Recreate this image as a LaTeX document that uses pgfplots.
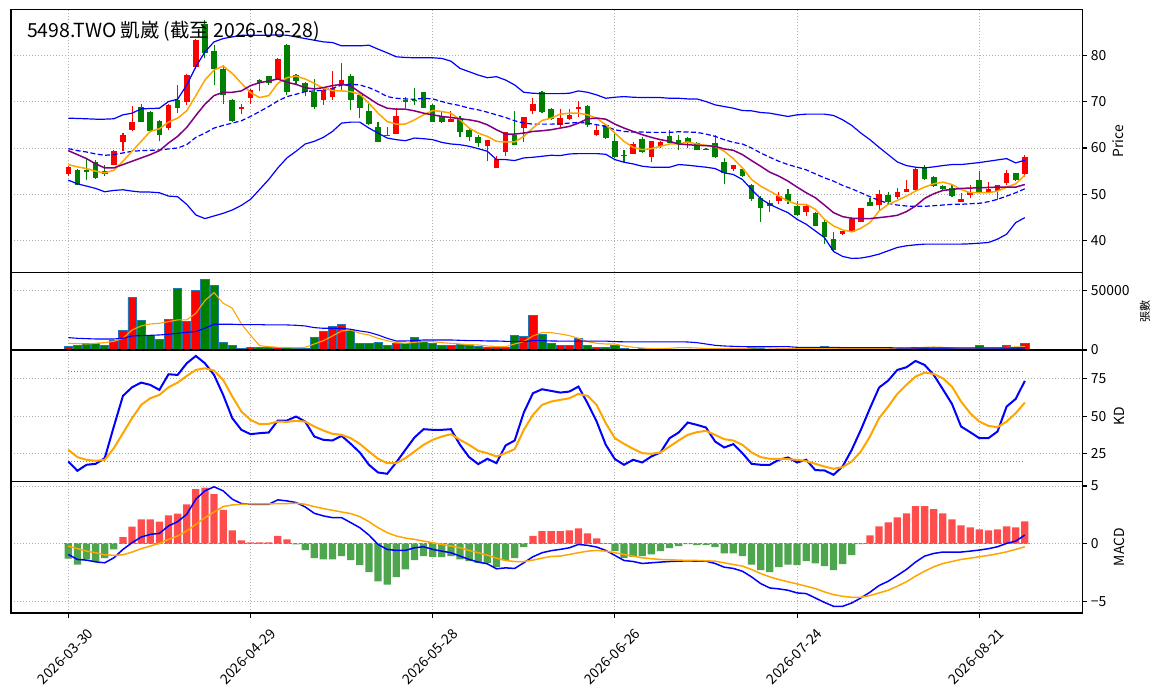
\documentclass[border=0pt]{standalone}
\usepackage{fontspec}
\setmainfont{Noto Sans CJK TC}
\usepackage{pgfplots}
\usepackage{pgfplotstable}
\pgfplotsset{compat=1.18}

\definecolor{cred}{RGB}{255,0,0}
\definecolor{cgreen}{RGB}{0,128,0}
\definecolor{corange}{RGB}{255,165,0}
\definecolor{cpurple}{RGB}{128,0,128}
\definecolor{cblue}{RGB}{0,0,255}
\definecolor{cedge}{RGB}{31,119,180}
\definecolor{hred}{RGB}{255,77,77}
\definecolor{hgreen}{RGB}{77,166,77}
\definecolor{cgrid}{RGB}{176,176,176}

\pgfplotstableread{
i O H L C V
0 54.4 56.1 53.9 55.9 2800
5 56.4 59.5 56.3 59.3 7900
6 61.2 63.2 59.3 62.9 16300
7 63.9 69.1 63.6 65.6 44400
11 64.3 69.5 63.8 69.3 25900
13 70.0 75.9 69.3 75.7 23900
14 77.5 83.5 77.0 83.2 50000
19 68.5 69.5 67.3 68.9 1100
20 70.7 72.6 69.4 72.5 2200
23 74.9 79.3 74.7 79.1 2000
28 70.4 73.2 69.3 72.4 15700
29 70.9 76.6 70.4 72.9 19700
30 73.6 78.2 72.5 74.6 21600
36 63.1 68.6 63.0 66.9 5600
42 65.6 68.0 65.5 66.3 3700
46 60.4 61.8 57.1 61.8 2500
47 55.7 58.2 55.7 57.7 2000
48 59.1 63.5 58.2 63.4 2500
50 64.4 66.6 61.3 66.6 11200
51 67.9 70.7 67.3 69.5 29200
54 65.0 68.4 64.6 66.4 3900
55 66.3 68.4 66.1 67.1 3900
56 68.4 70.2 66.6 68.9 9800
58 62.9 64.9 62.5 63.9 2000
62 58.8 61.3 58.6 60.9 800
64 58.1 61.5 57.0 61.4 600
65 60.4 61.4 60.0 61.3 500
73 55.5 56.3 55.0 56.3 600
78 48.6 50.6 48.0 49.6 600
81 46.2 47.9 45.4 47.4 600
85 41.4 42.2 41.3 42.1 1100
86 42.0 45.2 41.9 44.8 1100
87 44.1 47.1 44.0 47.0 1100
89 47.7 50.9 46.4 50.1 1100
91 49.5 51.3 49.1 50.6 1100
92 50.6 53.2 50.5 51.1 1100
93 50.9 55.6 50.8 55.4 2500
98 48.4 50.4 48.3 49.1 1100
99 49.9 52.1 49.3 50.6 1100
101 50.5 52.6 50.3 51.1 1100
102 50.7 52.1 48.9 52.1 1100
103 52.5 55.2 52.0 54.6 3700
105 54.3 58.4 53.7 58.1 5600
}\up

\pgfplotstableread{
i O H L C V
1 55.2 55.5 52.0 52.1 4200
2 55.3 57.6 53.0 54.8 5600
3 57.0 57.5 53.4 53.5 5600
4 55.0 56.3 54.0 54.5 3900
8 68.9 69.4 65.6 65.7 24700
9 67.8 68.0 63.4 63.6 12100
10 65.9 66.0 61.4 62.9 9000
12 70.4 73.6 67.5 68.7 52000
15 86.8 87.5 79.3 80.4 59600
16 80.9 82.1 73.6 77.1 54500
17 77.0 77.9 69.4 71.4 6500
18 70.4 70.5 65.7 65.9 3900
21 74.6 74.8 72.3 73.9 2200
22 75.5 75.6 73.6 73.9 2000
24 82.1 82.3 71.5 72.0 2200
25 75.7 76.0 73.5 74.4 1400
26 73.9 74.2 71.1 72.0 1400
27 72.0 74.9 68.4 68.9 10700
31 75.5 75.9 68.2 70.4 16300
32 71.4 71.5 66.4 68.7 5600
33 68.0 69.4 65.0 65.2 5600
34 64.6 65.7 61.2 61.3 6500
35 62.8 64.6 62.5 62.7 3700
37 70.4 70.9 68.7 70.0 5600
38 70.4 72.9 69.3 70.1 10700
39 72.0 72.1 68.6 68.7 7000
40 69.3 69.5 65.6 65.7 5600
41 66.8 67.9 65.4 65.7 3700
43 66.4 66.8 62.3 63.4 4800
44 63.9 64.1 61.6 62.3 3700
45 62.4 62.9 60.2 61.1 2800
49 62.9 68.0 60.6 60.6 12100
52 72.0 72.3 67.5 67.7 13200
53 68.4 68.6 66.1 66.3 5600
57 69.1 69.2 64.6 64.9 3900
59 65.0 65.1 62.0 62.1 2200
60 61.6 63.2 57.9 58.0 3700
61 58.5 59.6 57.0 58.3 1100
63 62.0 62.3 59.0 59.1 1100
66 62.6 63.9 61.0 61.1 500
67 61.8 62.9 59.6 60.9 500
68 62.1 62.3 59.9 61.3 500
69 61.1 61.3 59.5 59.6 500
70 59.8 59.9 59.6 59.7 600
71 61.1 62.7 57.9 58.0 1100
72 57.0 57.9 52.3 54.6 1100
74 55.4 55.7 53.8 53.9 600
75 52.1 52.2 48.6 49.1 2000
76 49.3 49.6 44.1 47.1 1700
77 48.1 48.9 46.3 47.5 600
79 50.0 51.1 48.0 48.6 600
80 47.5 48.6 45.4 45.6 600
82 46.1 46.2 43.1 43.2 800
83 44.1 44.4 39.3 40.9 2800
84 40.5 41.8 37.9 38.0 1100
88 48.4 49.3 47.4 47.5 1100
90 49.9 50.6 48.2 48.4 1100
94 55.9 56.3 53.0 53.4 2500
95 53.8 53.9 51.7 51.8 1100
96 51.9 52.1 50.9 51.2 1100
97 51.4 52.1 49.5 49.6 1100
100 53.0 55.0 50.5 50.6 3700
104 54.6 54.7 52.9 53.2 2500
}\down

\pgfplotstableread{
i u m l a b
0 66.43 59.86 53.07 56.43 59.43
1 66.36 59.43 52.29 55.93 58.57
2 66.29 59.14 51.79 55.57 57.71
3 66.21 58.71 51.29 55.00 56.57
4 66.21 58.43 50.57 54.64 55.71
5 66.29 58.57 50.86 55.21 55.71
6 67.14 58.93 51.00 57.14 56.43
7 67.50 59.29 50.71 59.29 57.14
8 68.43 59.43 50.50 61.43 57.86
9 68.50 59.50 50.50 63.57 58.57
10 68.57 59.57 50.36 64.14 59.43
11 70.00 59.79 49.64 65.57 61.07
12 70.50 60.00 49.50 66.43 62.50
13 73.57 60.71 47.86 68.00 64.43
14 77.50 62.29 45.57 71.29 67.00
15 80.71 63.21 44.79 74.64 69.43
16 82.86 64.29 45.36 76.79 71.29
17 83.57 64.86 45.93 77.64 72.00
18 83.93 65.36 46.64 76.07 72.00
19 84.29 65.86 47.64 73.93 72.29
20 84.29 66.79 48.93 71.93 73.43
21 84.29 67.86 51.07 70.86 74.07
22 84.29 68.93 53.21 71.29 74.43
23 84.36 70.14 55.71 73.93 74.86
24 84.29 71.07 57.86 75.14 74.14
25 83.93 71.57 59.29 75.50 73.71
26 83.57 72.14 60.86 74.86 73.00
27 83.21 72.29 61.43 73.93 72.71
28 82.86 72.43 62.29 72.86 73.00
29 82.71 72.86 63.57 72.36 73.43
30 82.00 73.57 65.36 72.29 73.71
31 82.00 73.71 65.57 72.14 73.36
32 82.00 73.57 65.57 71.57 72.00
33 82.14 73.00 64.29 69.64 70.71
34 81.29 72.14 63.21 67.50 69.43
35 80.50 71.07 62.14 65.71 68.57
36 79.64 70.71 61.79 65.14 68.36
37 79.50 70.57 61.57 65.14 68.36
38 79.43 70.50 62.14 66.07 68.00
39 79.43 70.71 62.00 67.14 67.50
40 79.43 70.57 61.79 68.07 67.14
41 79.29 70.00 61.21 67.86 66.79
42 78.71 69.50 60.86 67.50 66.57
43 77.14 69.14 60.71 66.07 66.29
44 76.43 68.57 60.36 64.29 66.07
45 75.71 68.21 59.86 63.21 65.71
46 75.14 67.71 59.29 62.50 65.00
47 75.36 67.14 57.50 61.43 63.93
48 74.64 66.57 57.50 61.29 63.00
49 73.57 65.86 57.29 61.29 63.00
50 72.00 65.36 57.86 62.50 63.21
51 71.79 65.14 58.00 64.29 63.57
52 71.71 65.14 58.21 65.93 63.71
53 71.71 65.14 58.43 66.43 63.93
54 71.71 65.21 58.36 67.29 64.29
55 71.79 65.36 58.71 67.50 64.64
56 72.29 65.50 58.79 67.50 65.36
57 72.00 65.36 58.79 67.14 66.29
58 71.43 65.00 58.79 66.43 66.43
59 70.71 64.64 58.64 65.00 66.21
60 70.93 63.93 57.50 63.21 65.14
61 71.07 63.57 56.93 61.43 64.29
62 70.93 63.43 56.57 60.14 63.57
63 70.86 63.43 56.07 59.64 62.86
64 70.86 63.36 55.86 59.86 62.29
65 70.86 63.36 55.86 60.36 61.79
66 70.71 63.36 55.86 60.86 61.43
67 70.71 63.50 56.43 60.86 60.86
68 70.57 63.43 56.29 61.29 60.71
69 70.57 63.36 56.07 60.86 60.57
70 70.00 63.00 55.86 60.57 60.50
71 69.29 62.50 55.57 60.36 60.36
72 68.93 61.79 54.64 59.29 59.79
73 68.57 61.21 54.29 57.71 59.50
74 68.07 60.86 53.21 55.71 58.57
75 68.00 60.00 51.07 53.21 57.29
76 67.64 58.93 49.07 51.79 56.07
77 67.50 58.00 47.86 50.71 54.79
78 67.14 57.14 46.93 49.64 53.93
79 66.79 56.43 46.07 48.57 52.86
80 67.14 55.86 44.64 47.86 51.57
81 67.29 55.29 43.57 47.86 50.36
82 67.29 54.43 42.14 46.79 49.29
83 67.29 53.57 40.71 44.64 47.71
84 67.00 52.86 37.71 43.21 46.07
85 66.07 51.93 36.64 42.36 45.21
86 64.86 51.21 36.21 41.93 44.86
87 63.21 50.36 36.29 42.71 44.79
88 61.79 49.50 36.64 43.93 44.79
89 60.14 48.71 37.14 46.43 45.00
90 58.57 48.07 37.86 47.86 45.21
91 57.00 47.71 38.57 48.71 45.50
92 56.21 47.50 38.93 49.64 46.29
93 55.86 47.43 39.14 50.71 47.50
94 55.71 47.43 39.29 51.57 49.14
95 55.93 47.57 39.29 52.29 50.14
96 56.21 47.71 39.29 52.64 50.86
97 56.43 47.86 39.29 52.14 51.07
98 56.43 47.86 39.29 51.07 51.29
99 56.64 48.00 39.36 50.36 51.36
100 56.86 48.07 39.50 50.36 51.43
101 57.14 48.43 39.64 50.36 51.50
102 57.43 48.93 40.36 50.71 51.57
103 57.71 49.64 41.43 51.57 51.57
104 56.79 50.36 43.93 52.29 51.57
105 57.36 51.21 45.00 54.14 52.14
}\pl

\pgfplotstableread{
i vm5 vm20 k d dif dea h
0 5620 10400 19.78 27.56 -0.93 -0.20 -1.30
1 5340 9840 13.56 22.67 -1.36 -0.43 -1.80
2 5060 9550 17.56 20.89 -1.42 -0.64 -1.36
3 5620 9270 18.22 20.22 -1.57 -0.78 -1.50
4 6180 9270 22.00 20.89 -1.65 -0.96 -1.25
5 7300 9270 43.11 28.67 -1.22 -1.01 -0.49
6 9840 9840 63.56 38.67 -0.49 -0.96 0.58
7 16860 11800 69.33 48.67 0.09 -0.72 1.48
8 20230 12080 72.44 57.56 0.58 -0.43 2.12
9 21920 12360 70.89 62.00 0.81 -0.20 2.12
10 22480 12650 67.56 64.22 0.90 0.03 1.91
11 23890 13210 78.00 69.33 1.54 0.38 2.46
12 25290 14050 77.56 72.44 1.91 0.67 2.61
13 25290 14890 85.33 76.89 2.55 1.10 3.42
14 30910 15460 90.22 80.89 3.86 1.68 4.72
15 41590 18270 85.33 82.00 4.58 2.26 4.87
16 48330 21640 77.56 80.44 4.93 2.75 4.29
17 39340 21640 64.22 74.22 4.58 3.22 2.93
18 35130 21640 48.67 63.11 3.86 3.36 1.16
19 22000 21360 40.89 53.11 3.48 3.42 0.29
20 12500 21360 38.00 47.56 3.42 3.45 0.12
21 3650 21360 38.67 44.67 3.42 3.45 0.12
22 2810 21080 39.11 44.89 3.42 3.45 0.12
23 2250 21080 47.11 46.44 3.80 3.48 0.67
24 2250 21080 47.11 46.22 3.71 3.48 0.38
25 1970 20790 49.78 46.89 3.57 3.51 -0.05
26 2250 20230 46.44 46.44 3.19 3.42 -0.55
27 5060 18830 36.44 43.11 2.64 3.22 -1.25
28 7870 18270 34.22 40.44 2.41 3.04 -1.36
29 11800 18270 33.78 38.22 2.26 2.90 -1.36
30 16020 18270 36.89 37.56 2.26 2.75 -1.07
31 16860 17420 31.56 35.33 1.83 2.61 -1.42
32 14050 16020 25.78 31.56 1.39 2.35 -1.86
33 12650 14890 17.56 26.44 0.75 1.91 -2.46
34 9840 12650 12.44 21.56 -0.06 1.39 -3.25
35 7870 9840 11.56 18.67 -0.49 0.96 -3.54
36 6180 7590 19.11 18.67 -0.58 0.67 -2.90
37 5620 7590 27.56 22.00 -0.58 0.49 -2.23
38 6460 7870 35.78 26.44 -0.35 0.38 -1.42
39 7030 8430 41.33 30.89 -0.26 0.23 -1.07
40 7030 8430 40.89 34.22 -0.49 0.09 -1.13
41 6180 8430 40.89 36.44 -0.64 -0.06 -1.16
42 5620 8430 41.33 38.00 -0.78 -0.20 -1.07
43 5060 8150 30.89 34.22 -1.07 -0.35 -1.36
44 4500 7870 22.67 30.89 -1.36 -0.58 -1.51
45 4220 7870 18.00 26.89 -1.59 -0.78 -1.65
46 3370 7590 21.56 25.33 -1.74 -0.99 -1.65
47 2810 7590 18.67 23.11 -2.17 -1.25 -2.03
48 2810 7310 30.44 25.33 -2.09 -1.45 -1.42
49 5060 7310 33.78 28.00 -2.14 -1.54 -1.25
50 7030 7030 52.44 40.89 -1.65 -1.54 -0.29
51 11800 7870 65.33 50.89 -1.13 -1.42 0.67
52 14610 7870 68.00 57.56 -0.78 -1.25 1.10
53 14610 7590 66.89 59.78 -0.60 -1.10 1.10
54 13490 7500 65.78 60.89 -0.49 -1.07 1.10
55 12080 7500 66.44 62.00 -0.35 -0.93 1.16
56 9840 7500 69.78 64.89 -0.06 -0.78 1.33
57 7030 7500 58.67 63.56 -0.14 -0.64 0.90
58 5620 7500 46.44 57.56 -0.29 -0.58 0.46
59 5060 7500 30.89 45.33 -0.58 -0.64 0.03
60 5060 7030 21.33 35.33 -1.01 -0.78 -0.64
61 3370 6880 17.56 31.56 -1.45 -0.93 -1.22
62 2250 6880 20.89 28.22 -1.54 -1.07 -1.13
63 1690 6880 19.11 25.33 -1.71 -1.22 -1.07
64 1120 6880 23.11 24.89 -1.65 -1.30 -0.93
65 1120 6880 25.78 25.78 -1.59 -1.36 -0.64
66 1400 6880 35.33 29.78 -1.54 -1.39 -0.38
67 1970 6880 39.11 33.78 -1.51 -1.42 -0.20
68 1970 6740 45.78 37.56 -1.48 -1.45 -0.03
69 1690 6180 44.22 39.33 -1.51 -1.45 -0.12
70 1120 5060 42.44 40.22 -1.51 -1.48 -0.12
71 1120 3930 33.11 37.56 -1.71 -1.51 -0.29
72 1120 3370 29.11 34.67 -2.03 -1.65 -0.84
73 1400 3090 31.33 33.78 -2.14 -1.80 -0.84
74 1120 2810 25.33 30.89 -2.38 -1.94 -1.07
75 1690 2810 18.22 25.78 -2.87 -2.23 -1.80
76 1970 2810 17.56 22.67 -3.45 -2.58 -2.29
77 1690 2810 17.56 21.56 -3.83 -2.87 -2.46
78 1400 2810 20.89 21.56 -3.91 -3.10 -2.03
79 1120 2810 22.44 21.33 -4.03 -3.30 -1.80
80 1120 2250 19.11 20.89 -4.26 -3.48 -1.86
81 1120 2250 20.89 20.00 -4.32 -3.68 -1.51
82 1120 2250 14.00 18.22 -4.70 -3.88 -1.71
83 1400 2250 13.78 16.44 -5.08 -4.17 -1.94
84 1400 2250 10.89 14.89 -5.42 -4.41 -2.29
85 1400 2000 16.44 16.00 -5.42 -4.55 -1.77
86 1400 2000 27.56 19.78 -5.13 -4.64 -0.99
87 1120 2000 40.89 26.44 -4.70 -4.64 -0.03
88 1120 1970 55.33 36.44 -4.20 -4.49 0.72
89 1120 1970 69.11 48.67 -3.62 -4.26 1.51
90 1120 1970 73.78 56.44 -3.25 -4.03 1.86
91 1120 1700 80.89 64.89 -2.75 -3.68 2.29
92 1120 1700 82.67 70.89 -2.23 -3.30 2.64
93 1690 1700 86.89 76.44 -1.59 -2.81 3.25
94 2250 1700 84.22 79.11 -1.07 -2.38 3.25
95 2530 1700 77.56 78.22 -0.84 -2.00 2.99
96 2250 1700 68.00 75.33 -0.72 -1.71 2.64
97 1690 1700 58.22 69.78 -0.72 -1.54 2.12
98 1120 1700 43.11 59.78 -0.72 -1.36 1.59
99 1120 1700 39.33 52.00 -0.64 -1.25 1.42
100 1690 1700 35.33 46.44 -0.55 -1.13 1.25
101 1690 1700 35.33 43.56 -0.43 -1.01 1.16
102 1690 1700 39.78 42.67 -0.26 -0.87 1.25
103 2250 1700 56.44 46.44 0.03 -0.70 1.51
104 2530 1700 61.56 52.00 0.23 -0.49 1.42
105 2810 1700 73.56 59.11 0.75 -0.26 1.94
}\ind

\pgfplotsset{
  panel/.style={
    scale only axis, width=1071.5pt,
    xmin=-6.29, xmax=111.33,
    axis line style={line width=1.1pt, black},
    xtick={0,20,40,60,80,100},
    xmajorgrids, ymajorgrids,
    grid style={color=cgrid, line width=0.9pt, dash pattern=on 1pt off 2pt},
    ytick pos=right, yticklabel pos=right,
    tick align=outside,
    major tick length=4.9pt,
    tick style={black, line width=1.1pt},
    tick label style={font=\fontsize{13.9}{16}\selectfont},
    /pgf/number format/assume math mode=true,
    /pgf/number format/1000 sep={},
    scaled y ticks=false,
    ylabel style={anchor=center, font=\fontsize{13.9}{16}\selectfont},
  },
  wick/.style={only marks, mark=none, mark size=0pt, mark options={draw=none, fill=none}, forget plot,
    error bars/.cd, y dir=plus, y explicit, error mark=none,
    error bar style={draw=#1, line width=1.1pt}},
  body/.style={only marks, mark=none, mark size=0pt, mark options={draw=none, fill=none}, forget plot,
    error bars/.cd, y dir=plus, y explicit, error mark=none,
    error bar style={draw=#1, line width=5.6pt}},
}

\begin{document}
\begin{tikzpicture}
% ---------------- price ----------------
\begin{axis}[panel, name=price, at={(0pt,0pt)}, anchor=north west,
  height=263pt, ymin=33.18, ymax=89.83, ytick={40,50,60,70,80},
  xmajorticks=false,
  ylabel={Price}, ylabel style={at={(axis description cs:1.0331,0.5)}}]
\addplot[wick=cred] table[x=i, y=L, y error expr=\thisrow{H}-\thisrow{L}] {\up};
\addplot[body=cred] table[x=i, y=O, y error expr=\thisrow{C}-\thisrow{O}] {\up};
\addplot[wick=cgreen] table[x=i, y=L, y error expr=\thisrow{H}-\thisrow{L}] {\down};
\addplot[body=cgreen] table[x=i, y=C, y error expr=\thisrow{O}-\thisrow{C}] {\down};
\addplot[cblue, line width=1.2pt] table[x=i,y=u] {\pl};
\addplot[cblue, line width=1.2pt] table[x=i,y=l] {\pl};
\addplot[cblue, line width=1.2pt, dash pattern=on 5pt off 2.5pt] table[x=i,y=m] {\pl};
\addplot[corange, line width=1.5pt] table[x=i,y=a] {\pl};
\addplot[cpurple, line width=1.5pt] table[x=i,y=b] {\pl};
\end{axis}
% ---------------- volume ----------------
\begin{axis}[panel, name=vol, at={(price.south west)}, anchor=north west,
  height=77.5pt, ymin=0, ymax=65200, ytick={0,50000},
  xmajorticks=false,
  ylabel={張數}, ylabel style={at={(axis description cs:1.0583,0.5)}, font=\fontsize{11.1}{13}\selectfont}]
\addplot[ybar, bar width=0.9, bar shift=0pt, fill=cred, draw=cedge, line width=0.8pt] table[x=i,y=V] {\up};
\addplot[ybar, bar width=0.9, bar shift=0pt, fill=cgreen, draw=cedge, line width=0.8pt] table[x=i,y=V] {\down};
\addplot[corange, line width=1.1pt] table[x=i,y=vm5] {\ind};
\addplot[cblue, line width=1.1pt] table[x=i,y=vm20] {\ind};
\end{axis}
% ---------------- KD ----------------
\begin{axis}[panel, name=kd, at={(vol.south west)}, anchor=north west,
  height=131.5pt, ymin=6.4, ymax=94.2, ytick={25,50,75},
  xmajorticks=false,
  ylabel={KD}, ylabel style={at={(axis description cs:1.0345,0.5)}}]
\addplot[gray, line width=0.9pt, dash pattern=on 1pt off 2pt] coordinates {(0,80) (105,80)};
\addplot[gray, line width=0.9pt, dash pattern=on 1pt off 2pt] coordinates {(0,20) (105,20)};
\addplot[cblue, line width=2pt] table[x=i,y=k] {\ind};
\addplot[corange, line width=2pt] table[x=i,y=d] {\ind};
\end{axis}
% ---------------- MACD ----------------
\begin{axis}[panel, name=macd, at={(kd.south west)}, anchor=north west,
  height=131.5pt, ymin=-6.0, ymax=5.39, ytick={-5,0,5}, yticklabels={−5,0,5},
  xtick pos=bottom,
  xticklabels={2026-03-30,2026-04-29,2026-05-28,2026-06-26,2026-07-24,2026-08-21},
  xticklabel style={anchor=center, xshift=-2.7pt, yshift=-38.7pt, rotate=45},
  ylabel={MACD}, ylabel style={at={(axis description cs:1.0345,0.5)}}]
\addplot[ybar, bar width=0.8, bar shift=0pt, fill=hred, draw=none, restrict y to domain=0:100] table[x=i,y=h] {\ind};
\addplot[ybar, bar width=0.8, bar shift=0pt, fill=hgreen, draw=none, restrict y to domain=-100:0] table[x=i,y=h] {\ind};
\addplot[gray, line width=1pt, dash pattern=on 3pt off 2pt] coordinates {(-0.5,0) (105.5,0)};
\addplot[cblue, line width=1.5pt] table[x=i,y=dif] {\ind};
\addplot[corange, line width=1.5pt] table[x=i,y=dea] {\ind};
\end{axis}
\node[anchor=base west, inner sep=0pt, font=\fontsize{19.4}{22}\selectfont] at (16pt,-27.8pt) {5498.TWO 凱崴 (截至 2026-08-28)};
\pgfresetboundingbox
\path[use as bounding box] (-11pt,9.5pt) rectangle (1152pt,-688.5pt);
\end{tikzpicture}
\end{document}
